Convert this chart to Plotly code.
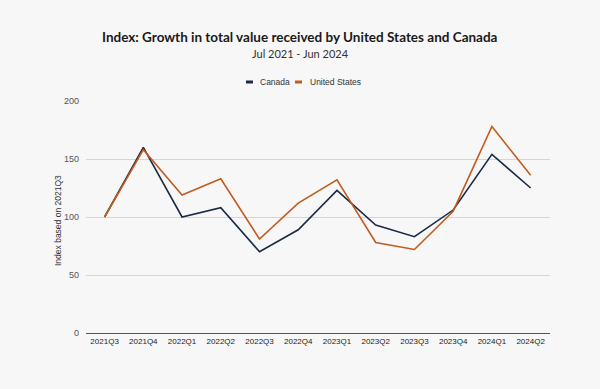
import plotly.graph_objects as go

quarters = ["2021Q3", "2021Q4", "2022Q1", "2022Q2", "2022Q3", "2022Q4",
            "2023Q1", "2023Q2", "2023Q3", "2023Q4", "2024Q1", "2024Q2"]
canada = [100, 160, 100, 108, 70, 89, 123, 93, 83, 106, 154, 125]
united_states = [100, 158, 119, 133, 81, 112, 132, 78, 72, 105, 178, 136]
y_ticks = [0, 50, 100, 150, 200]
series_names = ["Canada", "United States"]
colors = ["#1b2a47", "#c25b1f"]

L, R, T, B = 86, 50, 101, 56
PW, PH = 600 - L - R, 389 - T - B

def px(x):
    return (x - L) / PW

def py(y):
    return (389 - B - y) / PH

fig = go.Figure()
for name, vals, col in zip(series_names, [canada, united_states], colors):
    fig.add_trace(go.Scatter(x=quarters, y=vals, mode="lines", name=name,
                             line=dict(color=col, width=1.6), showlegend=False))

annotations = [
    dict(text="<b>Index: Growth in total value received by United States and Canada</b>",
         xref="paper", yref="paper", x=px(300), y=py(37),
         xanchor="center", yanchor="middle", showarrow=False,
         font=dict(family="Lato, Noto Sans", size=13.5, color="#1a1a1a")),
    dict(text="Jul 2021 - Jun 2024",
         xref="paper", yref="paper", x=px(300), y=py(54),
         xanchor="center", yanchor="middle", showarrow=False,
         font=dict(family="Lato, Noto Sans", size=11, color="#333333")),
    dict(text="Index based on 2021Q3", textangle=-90,
         xref="paper", yref="paper", x=px(58), y=py(221),
         xanchor="center", yanchor="middle", showarrow=False,
         font=dict(size=8.5, color="#333333")),
]
shapes = []
legend_swatch_x = [(246, 253), (295, 302)]
legend_text_x = [258, 308]
for name, col, (sx0, sx1), tx in zip(series_names, colors, legend_swatch_x, legend_text_x):
    shapes.append(dict(type="line", xref="paper", yref="paper",
                       x0=px(sx0), x1=px(sx1), y0=py(82), y1=py(82),
                       line=dict(color=col, width=3)))
    annotations.append(dict(text=name, xref="paper", yref="paper", x=px(tx), y=py(82),
                            xanchor="left", yanchor="middle", showarrow=False,
                            font=dict(size=8.5, color="#333333")))

fig.update_layout(
    width=600, height=389,
    paper_bgcolor="#f7f7f7", plot_bgcolor="#f7f7f7",
    margin=dict(l=L, r=R, t=T, b=B, autoexpand=False),
    font=dict(family="Liberation Sans, Arial", size=9, color="#222222"),
    showlegend=False,
    annotations=annotations,
    shapes=shapes,
)
fig.update_xaxes(type="category", range=[-0.48, 11.5], showgrid=False, automargin=False,
                 showline=True, linecolor="#555555", linewidth=1,
                 tickfont=dict(size=8, color="#222222"), ticks="", zeroline=False)
fig.update_yaxes(range=[0, 200], tickvals=y_ticks, showgrid=True, gridcolor="#d6d6d6",
                 gridwidth=1, zeroline=False, showline=False, automargin=False,
                 tickfont=dict(size=9, color="#555555"), ticklabelstandoff=6)

fig.write_html("out.html", config={"displayModeBar": False},
               post_script="document.body.style.margin='0';document.body.style.background='#f7f7f7';")
